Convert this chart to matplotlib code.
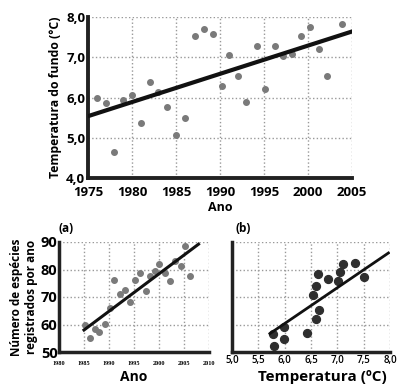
import matplotlib.pyplot as plt

# Top chart: bottom temperature by year
top_years = [1976.0, 1977.0, 1978.0, 1979.0, 1980.0, 1981.0, 1982.1, 1983.0, 1984.0,
             1985.0, 1986.0, 1987.2, 1988.2, 1989.2, 1990.2, 1991.0, 1992.1, 1993.0,
             1994.2, 1995.1, 1996.2, 1997.2, 1998.2, 1999.2, 2000.2, 2001.2, 2002.2, 2003.9]
top_temps = [6.00, 5.86, 4.64, 5.95, 6.07, 5.37, 6.39, 6.14, 5.76,
             5.08, 5.48, 7.52, 7.69, 7.59, 6.29, 7.06, 6.53, 5.88,
             7.27, 6.21, 7.27, 7.04, 7.08, 7.54, 7.74, 7.20, 6.53, 7.83]
top_trend_x = [1975.2, 2005.0]
top_trend_y = [5.55, 7.64]

# (a) species recorded per year
a_years = [1985.1, 1986.1, 1987.1, 1988.0, 1989.1, 1990.1, 1991.0, 1992.1, 1993.1,
           1994.2, 1995.2, 1996.1, 1997.3, 1998.1, 1999.1, 2000.0, 2001.1, 2002.1,
           2003.1, 2004.3, 2005.1, 2006.1]
a_species = [60.0, 55.0, 58.4, 57.3, 60.2, 66.0, 76.2, 71.2, 72.4,
             68.2, 76.2, 78.8, 72.1, 77.7, 79.5, 82.1, 78.8, 76.0,
             83.0, 81.3, 88.7, 77.5]
a_trend_x = [1985.0, 2007.9]
a_trend_y = [58.0, 89.2]

# (b) species vs temperature
b_temp = [5.78, 5.80, 5.99, 5.99, 6.43, 6.53, 6.59, 6.63, 6.60, 6.66,
          6.83, 7.02, 7.05, 7.10, 7.34, 7.51]
b_species = [56.4, 52.3, 59.2, 54.7, 56.8, 70.7, 73.9, 78.5, 61.9, 65.3,
             76.7, 76.0, 79.2, 82.1, 82.5, 77.4]
b_trend_x = [5.72, 7.97]
b_trend_y = [56.7, 86.0]

plt.rcParams['font.family'] = ['Open Sans', 'DejaVu Sans']

fig = plt.figure(figsize=(4.06, 3.89), dpi=100)


def style_axes(ax, lw):
    for s in ['top', 'right']:
        ax.spines[s].set_visible(False)
    for s in ['left', 'bottom']:
        ax.spines[s].set_linewidth(lw)
        ax.spines[s].set_color('#222222')
    ax.grid(True, linestyle=':', color='#999999', linewidth=1)
    ax.set_axisbelow(True)
    ax.tick_params(length=0)


# Top chart
ax = fig.add_axes([88 / 406, 1 - 178 / 389, 264 / 406, 161 / 389])
style_axes(ax, 2.8)
ax.scatter(top_years, top_temps, s=16, color='#7a7a7a', zorder=3)
ax.plot(top_trend_x, top_trend_y, color='#111111', linewidth=3, zorder=4)
ax.set_xlim(1975, 2005)
ax.set_ylim(4, 8)
ax.set_xticks(range(1975, 2006, 5))
ax.set_yticks([4, 5, 6, 7, 8])
ax.set_yticklabels(['4,0', '5,0', '6,0', '7,0', '8,0'])
ax.tick_params(axis='y', labelsize=9.5, pad=2)
ax.tick_params(axis='x', labelsize=9.5, pad=5.5)
for t in ax.get_xticklabels() + ax.get_yticklabels():
    t.set_fontweight('bold')
ax.set_ylabel('Temperatura do fundo (°C)', fontsize=8.8, fontweight='bold', labelpad=3)
ax.set_xlabel('Ano', fontsize=9, fontweight='bold', labelpad=2)

# (a)
axa = fig.add_axes([59 / 406, 1 - 352 / 389, 150 / 406, 110 / 389])
style_axes(axa, 2.5)
axa.scatter(a_years, a_species, s=16, color='#7a7a7a', zorder=3)
axa.plot(a_trend_x, a_trend_y, color='#111111', linewidth=2.2, zorder=4)
axa.set_xlim(1980, 2010)
axa.set_ylim(50, 90)
axa.set_xticks(range(1980, 2011, 5))
axa.set_yticks([50, 60, 70, 80, 90])
axa.tick_params(axis='y', labelsize=10.5, pad=1)
axa.tick_params(axis='x', labelsize=4.5, pad=6.5)
for t in axa.get_yticklabels():
    t.set_fontweight('bold')
for t in axa.get_xticklabels():
    t.set_fontweight('bold')
    t.set_family('Liberation Serif')
axa.set_ylabel('Número de espécies\nregistrados por ano', fontsize=8.5,
               fontweight='bold', labelpad=2, linespacing=1.25)
axa.set_xlabel('Ano', fontsize=10, fontweight='bold', labelpad=3)
axa.text(0.0, 1.06, '(a)', transform=axa.transAxes, fontsize=8.5,
         fontweight='bold', ha='left', va='bottom')

# (b)
axb = fig.add_axes([232 / 406, 1 - 352 / 389, 158 / 406, 110 / 389])
style_axes(axb, 2.5)
axb.scatter(b_temp, b_species, s=32, color='#2e2e2e', zorder=3)
axb.plot(b_trend_x, b_trend_y, color='#111111', linewidth=2, zorder=4)
axb.set_xlim(5.0, 8.0)
axb.set_ylim(50, 90)
axb.set_xticks([5.0, 5.5, 6.0, 6.5, 7.0, 7.5, 8.0])
axb.set_xticklabels(['5,0', '5,5', '6,0', '6,5', '7,0', '7,5', '8,0'])
axb.set_yticks([50, 60, 70, 80, 90])
axb.set_yticklabels([])
axb.tick_params(axis='x', labelsize=7, pad=2)
for t in axb.get_xticklabels():
    t.set_fontweight('semibold')
axb.set_xlabel('Temperatura (ºC)', fontsize=11, fontweight='bold', labelpad=1)
axb.xaxis.set_label_coords(0.57, -0.16)
axb.text(0.02, 1.06, '(b)', transform=axb.transAxes, fontsize=8.5,
         fontweight='bold', ha='left', va='bottom')

fig.savefig('out.png', dpi=100)
